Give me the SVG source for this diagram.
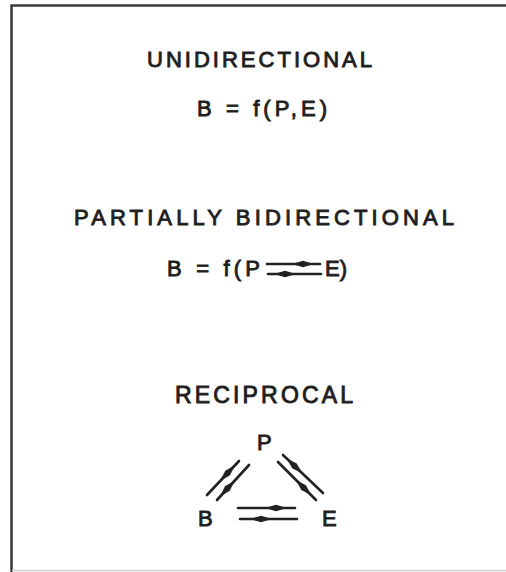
<svg xmlns="http://www.w3.org/2000/svg" xmlns:xlink="http://www.w3.org/1999/xlink" width="506" height="572" viewBox="0 0 506 572">
<style>
.t{font-family:"Liberation Sans",Arial,sans-serif;fill:#1e1e1e;font-size:22px;stroke:#1e1e1e;stroke-width:0.9}
.ln{stroke:#222;stroke-width:2.6;fill:none;stroke-linecap:round}
.hd{fill:#222}
</style>
<defs>
<path id="head" d="M9,0 L-2,-3.3 L-13,0 L-2,3.3 Z"/>
</defs>
<rect width="506" height="572" fill="#ffffff"/>
<path d="M520,5.5 H11.5 V572" fill="none" stroke="#3a3a3a" stroke-width="2.5"/>
<line x1="12" y1="570.5" x2="506" y2="570.5" stroke="#cfcfcf" stroke-width="1.5"/>

<g id="title-unidirectional"><text class="t" x="147" y="67" textLength="225" lengthAdjust="spacing">UNIDIRECTIONAL</text></g>
<g id="formula-unidirectional"><text class="t" x="197" y="116" textLength="130" lengthAdjust="spacing">B = f(P,E)</text></g>

<g id="title-partial"><text class="t" x="74" y="225" textLength="380" lengthAdjust="spacing">PARTIALLY BIDIRECTIONAL</text></g>
<g id="formula-partial">
<text class="t" x="167" y="276" textLength="93" lengthAdjust="spacing">B = f(P</text>
<text class="t" x="325" y="276" textLength="22" lengthAdjust="spacing">E)</text>
</g>

<g id="title-reciprocal"><text class="t" x="175" y="403" textLength="178" lengthAdjust="spacing" style="font-size:23px">RECIPROCAL</text></g>
<g id="node-P"><text class="t" x="257" y="450">P</text></g>
<g id="node-B"><text class="t" x="198" y="526">B</text></g>
<g id="node-E"><text class="t" x="322" y="526">E</text></g>

<g id="connectors">
<line class="ln" x1="267" y1="264" x2="320" y2="264"/>
<use xlink:href="#head" class="hd" transform="translate(305,264)"/>
<line class="ln" x1="268" y1="274" x2="321" y2="274"/>
<use xlink:href="#head" class="hd" transform="translate(283,274) rotate(180)"/>

<line class="ln" x1="207" y1="495" x2="239" y2="461"/>
<use xlink:href="#head" class="hd" transform="translate(229,471.5) rotate(-46.7)"/>
<line class="ln" x1="217" y1="500" x2="249" y2="465"/>
<use xlink:href="#head" class="hd" transform="translate(226,490) rotate(132.4)"/>

<line class="ln" x1="283" y1="455" x2="323" y2="493"/>
<use xlink:href="#head" class="hd" transform="translate(293,464.5) rotate(-136.5)"/>
<line class="ln" x1="278" y1="462" x2="316" y2="500"/>
<use xlink:href="#head" class="hd" transform="translate(305,489) rotate(45)"/>

<line class="ln" x1="238" y1="508" x2="295" y2="508"/>
<use xlink:href="#head" class="hd" transform="translate(278,508)"/>
<line class="ln" x1="240" y1="519" x2="297" y2="519"/>
<use xlink:href="#head" class="hd" transform="translate(259,519) rotate(180)"/>
</g>
</svg>
